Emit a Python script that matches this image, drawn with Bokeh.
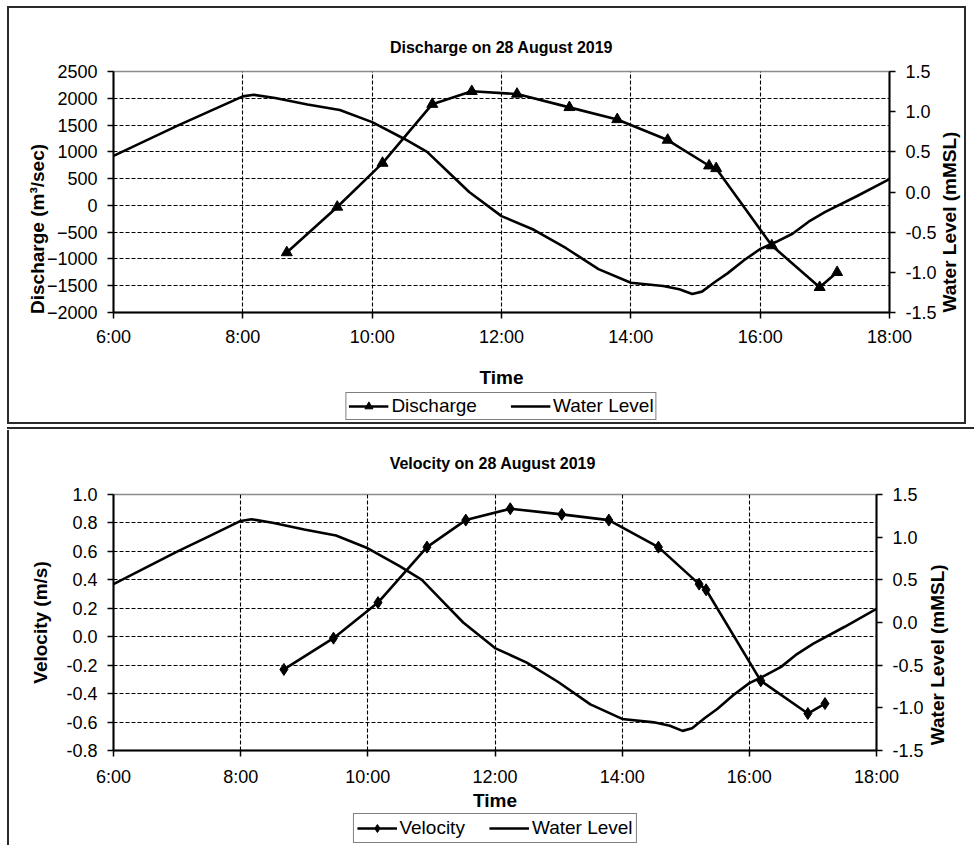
import math
from bokeh.plotting import figure
from bokeh.models import (Range1d, LinearAxis, FixedTicker, Legend, LegendItem,
                          NumeralTickFormatter)
from bokeh.layouts import column
from bokeh.embed import file_html
from bokeh.resources import INLINE

# ---------------- data (decimal hours) ----------------
x_ticks = [6, 8, 10, 12, 14, 16, 18]
x_tick_labels = ["6:00", "8:00", "10:00", "12:00", "14:00", "16:00", "18:00"]

meas_time = [8.68, 9.46, 10.16, 10.93, 11.54, 12.24, 13.05, 13.79, 14.57, 15.21, 15.32, 16.18, 16.92, 17.19]
discharge = [-880, -30, 790, 1890, 2130, 2080, 1830, 1605, 1220, 740, 690, -750, -1530, -1250]
velocity = [-0.23, -0.01, 0.24, 0.63, 0.82, 0.90, 0.86, 0.82, 0.63, 0.37, 0.33, -0.31, -0.54, -0.47]

wl_time = [6.0, 6.5, 7.0, 7.5, 8.0, 8.17, 8.5, 9.0, 9.5, 10.0, 10.5, 10.85, 11.2, 11.5,
           12.0, 12.5, 13.0, 13.5, 14.0, 14.5, 14.75, 14.95, 15.1, 15.3, 15.5, 15.75,
           16.0, 16.25, 16.5, 16.75, 17.0, 17.5, 18.0]
water_level = [0.45, 0.64, 0.83, 1.01, 1.19, 1.21, 1.17, 1.09, 1.02, 0.87, 0.66, 0.50, 0.23, 0.00,
               -0.30, -0.47, -0.70, -0.96, -1.13, -1.17, -1.21, -1.27, -1.24, -1.12, -1.01, -0.85,
               -0.71, -0.62, -0.52, -0.37, -0.25, -0.05, 0.16]

discharge_ticks = [-2000, -1500, -1000, -500, 0, 500, 1000, 1500, 2000, 2500]
velocity_ticks = [-0.8, -0.6, -0.4, -0.2, 0.0, 0.2, 0.4, 0.6, 0.8, 1.0]
wl_ticks = [-1.5, -1.0, -0.5, 0.0, 0.5, 1.0, 1.5]

FONT = "Liberation Sans"
NBSP = "\u00a0"
LINE_W = 2.6


def style_axis(ax, label_standoff, label_size="19px"):
    ax.major_label_text_font = FONT
    ax.major_label_text_font_size = "18px"
    ax.major_label_text_color = "black"
    ax.axis_label_text_font = FONT
    ax.axis_label_text_font_size = label_size
    ax.axis_label_text_font_style = "bold"
    ax.axis_label_text_color = "black"
    ax.axis_line_color = "black"
    ax.axis_line_width = 2
    ax.major_tick_line_color = "black"
    ax.major_tick_line_width = 1.5
    ax.major_tick_in = 0
    ax.major_tick_out = 6
    ax.minor_tick_in = 0
    ax.minor_tick_out = 0
    ax.axis_label_standoff = label_standoff


def line_css(rects):
    return {
        "background-image": ", ".join(["linear-gradient(#2a2a2a, #2a2a2a)"] * len(rects)),
        "background-size": ", ".join(f"{w}px {h}px" for (_, _, w, h) in rects),
        "background-position": ", ".join(f"{x}px {y}px" for (x, y, _, _) in rects),
        "background-repeat": "no-repeat",
    }


def make_chart(title, title_standoff, y_lo, y_hi, y_ticks, y_fmt, y_label, y_values,
               marker, marker_size, w, h, mbt, mbb,
               left_std, right_std, right_lbl_std, right_pad, x_lbl_std, bottom_lbl_std):
    p = figure(width=w, height=h,
               min_border_left=113, min_border_right=85,
               min_border_top=mbt, min_border_bottom=mbb,
               x_range=Range1d(6, 18), y_range=Range1d(y_lo, y_hi),
               output_backend="svg", toolbar_location=None,
               background_fill_color="white", border_fill_color=None)
    p.extra_y_ranges = {"wl": Range1d(-1.5, 1.5)}

    p.title.text = title
    p.title.align = "center"
    p.title.text_font = FONT
    p.title.text_font_size = "16px"
    p.title.text_font_style = "bold"
    p.title.text_color = "black"
    p.title.standoff = title_standoff

    p.outline_line_color = "#8c8c8c"
    p.outline_line_width = 1.5

    xa = p.xaxis[0]
    xa.ticker = FixedTicker(ticks=x_ticks)
    xa.major_label_overrides = {t: lab for t, lab in zip(x_ticks, x_tick_labels)}
    xa.axis_label = "Time"
    style_axis(xa, x_lbl_std)
    xa.major_label_standoff = bottom_lbl_std

    ya = p.yaxis[0]
    ya.ticker = FixedTicker(ticks=y_ticks)
    if y_fmt:
        ya.formatter = NumeralTickFormatter(format=y_fmt)
    ya.axis_label = y_label
    style_axis(ya, left_std)
    ya.major_label_standoff = 10

    ra = LinearAxis(y_range_name="wl", ticker=FixedTicker(ticks=wl_ticks),
                    formatter=NumeralTickFormatter(format="0.0"),
                    axis_label="Water Level (mMSL)")
    style_axis(ra, right_lbl_std)
    ra.major_label_standoff = right_std
    ra.axis_label_orientation = math.pi / 2
    if "axis_label_align" in ra.properties():
        ra.axis_label_align = "start"
        ra.axis_label = NBSP * right_pad + "Water Level (mMSL)"
    p.add_layout(ra, "right")

    p.xgrid.ticker = FixedTicker(ticks=x_ticks)
    p.ygrid.ticker = FixedTicker(ticks=y_ticks)
    for g in (p.xgrid[0], p.ygrid[0]):
        g.grid_line_color = "black"
        g.grid_line_width = 1.1
        g.grid_line_dash = "4 2"

    p.line(wl_time, water_level, y_range_name="wl", line_color="black", line_width=LINE_W)
    p.line(meas_time, y_values, line_color="black", line_width=LINE_W)
    p.scatter(meas_time, y_values, marker=marker, size=marker_size,
              fill_color="black", line_color="black")
    return p


def make_legend(series_name, y_values, marker, marker_size, w, h, spacing, pad, margin):
    # a strip holding only the legend; its renderers repeat the chart's series,
    # which fall outside this strip's ranges so that only the legend glyphs show
    lg = figure(width=w, height=h, min_border_left=113, min_border_right=85,
                min_border_top=0, min_border_bottom=0,
                x_range=Range1d(0, 1), y_range=Range1d(-1e6, -1e6 + 1),
                x_axis_type=None, y_axis_type=None,
                output_backend="svg", toolbar_location=None,
                background_fill_color=None, border_fill_color=None)
    lg.outline_line_color = None
    lg.grid.visible = False
    s_line = lg.line(meas_time, y_values, line_color="black", line_width=LINE_W)
    s_mark = lg.scatter(meas_time, y_values, marker=marker, size=marker_size,
                        fill_color="black", line_color="black")
    wl_line = lg.line(wl_time, water_level, line_color="black", line_width=LINE_W)
    legend = Legend(items=[LegendItem(label=series_name, renderers=[s_line, s_mark]),
                           LegendItem(label="Water Level", renderers=[wl_line])],
                    orientation="horizontal", location="top_center",
                    padding=pad, spacing=spacing, glyph_width=40,
                    glyph_height=20, label_height=20, label_standoff=3,
                    label_text_font=FONT, label_text_font_size="19px",
                    label_text_color="black",
                    border_line_color="black", border_line_width=1.2,
                    background_fill_color="white", margin=margin)
    lg.add_layout(legend, "center")
    return lg


# upper chart: 0..390, its legend strip 390..430
p1 = make_chart("Discharge on 28 August 2019", 32, -2000, 2500, discharge_ticks, None,
                "Discharge  (m³/sec)" + NBSP * 13, discharge, "triangle", 11,
                974, 390, 71, 77,
                -4, 10, 10, 0, 17, 8)
p1.styles = line_css([(7, 6, 959, 2), (7, 6, 2, 384), (964, 6, 2, 384)])

l1 = make_legend("Discharge", discharge, "triangle", 11, 974, 40, 33, 2, 2)
l1.styles = line_css([(7, 0, 2, 34), (964, 0, 2, 34), (7, 32, 959, 2), (7, 37, 967, 2)])

# lower chart: 430..813, its legend strip 813..845
p2 = make_chart("Velocity on 28 August  2019", 45, -0.8, 1.0, velocity_ticks, "0.0",
                "Velocity (m/s)", velocity, "diamond", 12,
                961, 383, 60, 62,
                12, 10, 11, 1, 0, 10)
p2.styles = line_css([(7, 0, 2, 383)])

l2 = make_legend("Velocity", velocity, "diamond", 12, 961, 32, 24, 3, 0)
l2.styles = line_css([(7, 0, 2, 32)])

layout = column(p1, l1, p2, l2, spacing=0)

open("out.html", "w").write(file_html(layout, INLINE))
